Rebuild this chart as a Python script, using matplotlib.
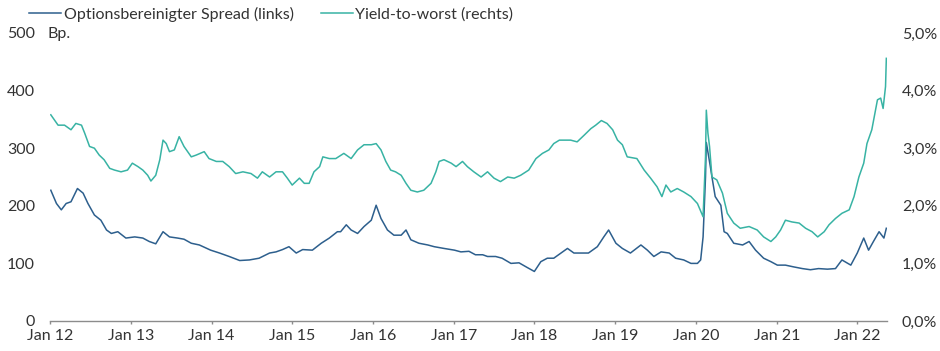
import matplotlib
matplotlib.use("Agg")
import matplotlib.pyplot as plt
import numpy as np
import pandas as pd

# Data (decimal years, values in bp / percent)
oas_t = [2012.01, 2012.08, 2012.14, 2012.20, 2012.26, 2012.34, 2012.41, 2012.47, 2012.55, 2012.63,
         2012.70, 2012.76, 2012.84, 2012.94, 2013.05, 2013.15, 2013.23, 2013.31, 2013.40, 2013.48,
         2013.58, 2013.66, 2013.75, 2013.85, 2013.99, 2014.10, 2014.22, 2014.35, 2014.47, 2014.59,
         2014.72, 2014.80, 2014.88, 2014.96, 2015.05, 2015.13, 2015.25, 2015.36, 2015.46, 2015.56,
         2015.60, 2015.67, 2015.73, 2015.81, 2015.89, 2015.98, 2016.04, 2016.10, 2016.18, 2016.26,
         2016.35, 2016.41, 2016.47, 2016.57, 2016.68, 2016.76, 2016.88, 2017.01, 2017.09, 2017.19,
         2017.27, 2017.36, 2017.42, 2017.52, 2017.60, 2017.71, 2017.81, 2017.91, 2018.00, 2018.08,
         2018.16, 2018.24, 2018.33, 2018.41, 2018.49, 2018.57, 2018.67, 2018.78, 2018.86, 2018.92,
         2019.01, 2019.09, 2019.19, 2019.32, 2019.40, 2019.48, 2019.57, 2019.67, 2019.75, 2019.85,
         2019.94, 2020.02, 2020.06, 2020.09, 2020.12, 2020.13, 2020.18, 2020.20, 2020.24, 2020.31,
         2020.35, 2020.39, 2020.47, 2020.58, 2020.66, 2020.74, 2020.84, 2020.93, 2021.01, 2021.11,
         2021.21, 2021.32, 2021.42, 2021.52, 2021.63, 2021.73, 2021.81, 2021.92, 2022.00, 2022.08,
         2022.14, 2022.20, 2022.27, 2022.33, 2022.36]
oas_v = [227, 204, 193, 204, 207, 230, 222, 204, 184, 175,
         158, 152, 155, 144, 146, 144, 138, 134, 155, 146,
         144, 142, 135, 132, 123, 118, 112, 105, 106, 109,
         118, 120, 124, 129, 118, 124, 123, 135, 144, 155,
         155, 167, 158, 152, 164, 175, 201, 178, 158, 149,
         149, 158, 141, 135, 132, 129, 126, 123, 120, 121,
         115, 115, 112, 112, 109, 100, 101, 93, 86, 103,
         109, 109, 118, 126, 118, 118, 118, 129, 146, 158,
         135, 126, 118, 132, 123, 112, 120, 118, 109, 106,
         100, 100, 106, 146, 250, 310, 268, 250, 216, 201,
         155, 152, 135, 132, 138, 123, 109, 103, 97, 97,
         94, 91, 89, 91, 90, 91, 106, 97, 118, 144,
         123, 138, 155, 144, 161]

ytw_t = [2012.01, 2012.10, 2012.18, 2012.26, 2012.32, 2012.39, 2012.43, 2012.49, 2012.55, 2012.61,
         2012.67, 2012.74, 2012.80, 2012.88, 2012.96, 2013.02, 2013.09, 2013.15, 2013.21, 2013.25,
         2013.31, 2013.36, 2013.40, 2013.44, 2013.48, 2013.54, 2013.60, 2013.66, 2013.75, 2013.81,
         2013.91, 2013.97, 2014.06, 2014.14, 2014.22, 2014.30, 2014.39, 2014.49, 2014.57, 2014.63,
         2014.72, 2014.80, 2014.88, 2014.94, 2015.00, 2015.09, 2015.15, 2015.21, 2015.27, 2015.34,
         2015.38, 2015.46, 2015.54, 2015.64, 2015.73, 2015.81, 2015.89, 2015.98, 2016.04, 2016.10,
         2016.16, 2016.22, 2016.28, 2016.35, 2016.41, 2016.47, 2016.55, 2016.63, 2016.72, 2016.78,
         2016.82, 2016.88, 2016.97, 2017.03, 2017.11, 2017.17, 2017.25, 2017.34, 2017.42, 2017.50,
         2017.58, 2017.67, 2017.75, 2017.83, 2017.93, 2018.02, 2018.10, 2018.18, 2018.24, 2018.31,
         2018.37, 2018.45, 2018.53, 2018.62, 2018.70, 2018.76, 2018.83, 2018.90, 2018.97, 2019.03,
         2019.09, 2019.15, 2019.27, 2019.36, 2019.44, 2019.52, 2019.58, 2019.63, 2019.69, 2019.77,
         2019.85, 2019.94, 2020.02, 2020.09, 2020.12, 2020.13, 2020.15, 2020.17, 2020.20, 2020.26,
         2020.33, 2020.39, 2020.47, 2020.55, 2020.66, 2020.76, 2020.84, 2020.93, 2020.99, 2021.05,
         2021.11, 2021.19, 2021.28, 2021.36, 2021.44, 2021.51, 2021.59, 2021.65, 2021.73, 2021.81,
         2021.90, 2021.96, 2022.02, 2022.08, 2022.12, 2022.18, 2022.25, 2022.29, 2022.32, 2022.35,
         2022.36]
ytw_v = [3.58, 3.40, 3.40, 3.32, 3.43, 3.40, 3.26, 3.03, 3.00, 2.88,
         2.80, 2.65, 2.62, 2.59, 2.62, 2.74, 2.68, 2.62, 2.53, 2.43,
         2.53, 2.80, 3.14, 3.08, 2.94, 2.97, 3.20, 3.03, 2.85, 2.88,
         2.94, 2.82, 2.77, 2.77, 2.68, 2.56, 2.59, 2.56, 2.48, 2.59,
         2.50, 2.59, 2.59, 2.48, 2.36, 2.48, 2.39, 2.39, 2.59, 2.68,
         2.85, 2.82, 2.82, 2.91, 2.82, 2.97, 3.06, 3.06, 3.08, 2.97,
         2.77, 2.62, 2.59, 2.53, 2.39, 2.27, 2.24, 2.27, 2.39, 2.59,
         2.77, 2.80, 2.74, 2.68, 2.77, 2.68, 2.59, 2.50, 2.59, 2.48,
         2.42, 2.50, 2.48, 2.53, 2.62, 2.82, 2.91, 2.97, 3.08, 3.14,
         3.14, 3.14, 3.11, 3.23, 3.34, 3.40, 3.48, 3.43, 3.32, 3.14,
         3.06, 2.85, 2.82, 2.62, 2.48, 2.33, 2.16, 2.36, 2.24, 2.30,
         2.24, 2.16, 2.04, 1.81, 2.85, 3.66, 3.26, 3.03, 2.50, 2.45,
         2.22, 1.87, 1.70, 1.61, 1.64, 1.58, 1.46, 1.38, 1.46, 1.58,
         1.75, 1.72, 1.70, 1.61, 1.55, 1.46, 1.55, 1.67, 1.78, 1.87,
         1.93, 2.16, 2.50, 2.74, 3.08, 3.32, 3.84, 3.87, 3.69, 4.07,
         4.56]

x_labels = ["Jan 12", "Jan 13", "Jan 14", "Jan 15", "Jan 16", "Jan 17",
            "Jan 18", "Jan 19", "Jan 20", "Jan 21", "Jan 22"]
left_ticks = [0, 100, 200, 300, 400, 500]
right_ticks = [0.0, 1.0, 2.0, 3.0, 4.0, 5.0]


def to_dates(t):
    base = pd.Timestamp("2012-01-01")
    return [base + pd.Timedelta(days=(v - 2012.0) * 365.25) for v in t]


plt.rcParams['font.family'] = ['Lato', 'DejaVu Sans']
TXT = "#333333"
C_OAS = "#2d5f8d"
C_YTW = "#38b3a4"
FS = 11.5

fig = plt.figure(figsize=(9.4, 3.51), dpi=100)
ax = fig.add_axes([50 / 940, 1 - 321 / 351, 837 / 940, 288 / 351])
ax2 = ax.twinx()

l1, = ax.plot(to_dates(oas_t), oas_v, color=C_OAS, lw=1.1)
l2, = ax2.plot(to_dates(ytw_t), ytw_v, color=C_YTW, lw=1.1)

ax.set_ylim(0, 500)
ax2.set_ylim(0, 5)
ax.set_xlim(pd.Timestamp("2012-01-01"), pd.Timestamp("2022-05-15"))

ax.set_yticks(left_ticks)
ax.set_yticklabels([str(v) for v in left_ticks])
ax2.set_yticks(right_ticks)
ax2.set_yticklabels([f"{v:.1f}%".replace(".", ",") for v in right_ticks])

xt = [pd.Timestamp(f"{2012 + i}-01-01") for i in range(len(x_labels))]
ax.set_xticks(xt)
ax.set_xticklabels(x_labels)

for a in (ax, ax2):
    for s in ("top", "right", "left"):
        a.spines[s].set_visible(False)
    a.spines["bottom"].set_color("#8c8c8c")
    a.spines["bottom"].set_linewidth(1.0)
ax2.spines["bottom"].set_visible(False)

ax.tick_params(axis="y", length=0, pad=10.8, labelsize=FS, labelcolor=TXT)
ax2.tick_params(axis="y", length=0, pad=10.8, labelsize=FS, labelcolor=TXT)
ax.tick_params(axis="x", length=2.5, width=1, color="#8c8c8c", pad=3.5,
               labelsize=FS, labelcolor=TXT)

ax.text(-0.003, 500, "Bp.", transform=ax.get_yaxis_transform(), ha="left",
        va="center_baseline", fontsize=FS, color=TXT)

fig.legend([l1, l2], ["Optionsbereinigter Spread (links)", "Yield-to-worst (rechts)"],
           loc="center left", bbox_to_anchor=(23 / 940, 1 - 14 / 351), ncol=2,
           frameon=False, fontsize=FS, handlelength=2.0, handletextpad=0.15,
           columnspacing=1.7, labelcolor=TXT, borderaxespad=0)

fig.savefig("out.png", dpi=100)
